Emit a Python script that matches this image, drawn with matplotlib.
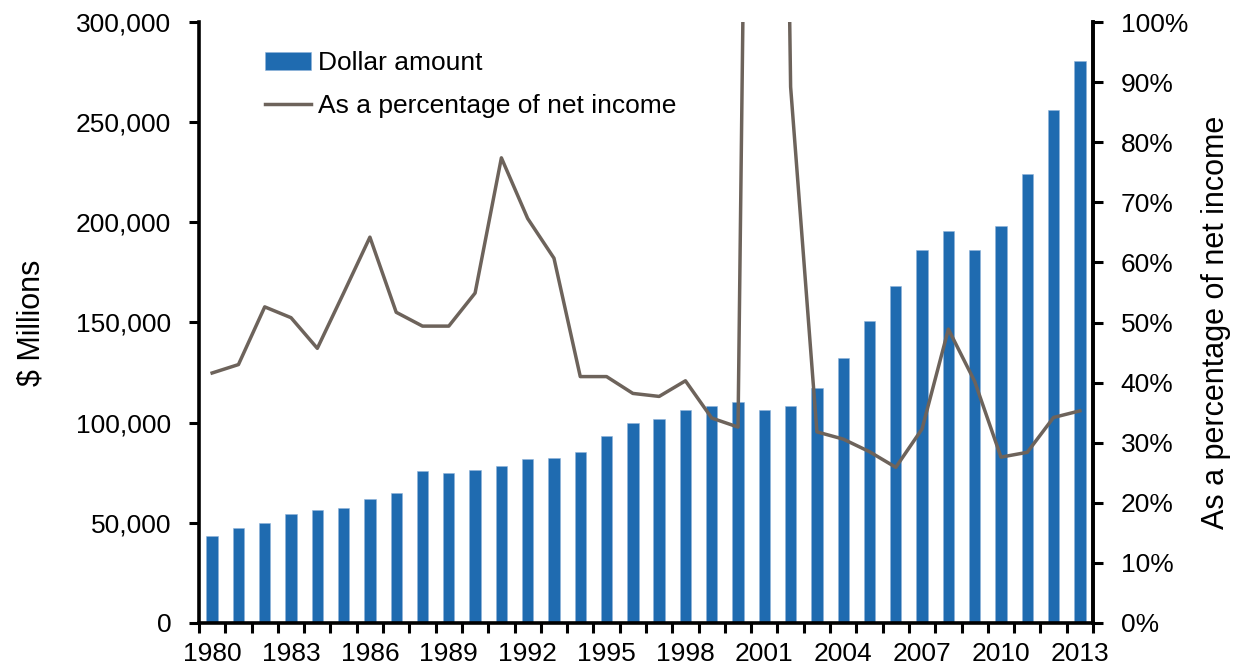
import matplotlib
matplotlib.use("Agg")
import matplotlib.pyplot as plt
import numpy as np
from matplotlib.ticker import FuncFormatter, FixedLocator

years = list(range(1980, 2014))
dollar_amount = [43400, 47600, 49900, 54200, 56200, 57400, 61900, 65000, 75800, 74800,
                 76500, 78200, 81800, 82500, 85500, 93200, 99900, 101900, 106400, 108400,
                 110300, 106100, 108400, 117300, 132200, 150700, 168300, 186000, 195600, 186300,
                 198100, 224200, 256300, 280300]
pct_net_income = [41.6, 43.0, 52.6, 50.8, 45.7, 54.9, 64.2, 51.7, 49.4, 49.4,
                  54.9, 77.4, 67.3, 60.7, 41.0, 41.0, 38.2, 37.7, 40.3, 34.1,
                  32.6, 400.0, 89.2, 31.8, 30.6, 28.5, 25.9, 32.3, 48.9, 40.2,
                  27.6, 28.4, 34.2, 35.3]
label_years = years[::3]

plt.rcParams['font.family'] = ['Liberation Sans', 'DejaVu Sans']

bar_color = '#1f6bb0'
line_color = '#6d635b'

fig = plt.figure(figsize=(12.41, 6.69), dpi=100)
ax1 = fig.add_axes([199/1241, 1-623/669, (1093-199)/1241, (623-22)/669])
ax2 = ax1.twinx()

x = np.arange(len(years))
bars = ax1.bar(x, dollar_amount, width=0.43, color=bar_color, label='Dollar amount',
               edgecolor='#8fb3d9', linewidth=0.4)
ax1.set_xlim(-0.5, len(years) - 0.5)
ax1.set_ylim(0, 300000)
ax1.set_yticks(np.arange(0, 300001, 50000))
ax1.yaxis.set_major_formatter(FuncFormatter(lambda v, p: f"{int(v):,}"))
ax1.set_xticks([years.index(y) for y in label_years])
ax1.set_xticklabels([str(y) for y in label_years])
ax1.xaxis.set_minor_locator(FixedLocator(np.arange(-0.5, len(years), 1.0)))
ax1.tick_params(axis='x', which='major', length=0, labelsize=19, pad=14)
ax1.tick_params(axis='x', which='minor', length=7, width=2.2, direction='out')
ax1.tick_params(axis='y', length=7, width=2.2, labelsize=19, pad=13)
ax1.set_ylabel('$ Millions', fontsize=22, labelpad=21)

line, = ax2.plot(x, [v / 100 for v in pct_net_income], color=line_color, lw=2.5,
                 label='As a percentage of net income')
ax2.set_ylim(0, 1)
ax2.set_yticks(np.arange(0, 1.01, 0.1))
ax2.yaxis.set_major_formatter(FuncFormatter(lambda v, p: f"{int(round(v*100))}%"))
ax2.tick_params(axis='y', length=7, width=2.2, labelsize=19, pad=13)
ax2.set_ylabel('As a percentage of net income', fontsize=22, labelpad=9)

for ax in (ax1, ax2):
    ax.spines['top'].set_visible(False)
    for s in ('left', 'right', 'bottom'):
        ax.spines[s].set_linewidth(2.6)
ax2.spines['left'].set_visible(False)
ax2.spines['bottom'].set_visible(False)

leg = ax2.legend([bars, line], ['Dollar amount', 'As a percentage of net income'],
                 loc='upper left', bbox_to_anchor=(265/1241, 1-51/669),
                 bbox_transform=fig.transFigure, frameon=False, fontsize=19,
                 handlelength=1.75, handletextpad=0.25, labelspacing=0.72,
                 borderpad=0, borderaxespad=0)

fig.savefig('out.png', dpi=100)
